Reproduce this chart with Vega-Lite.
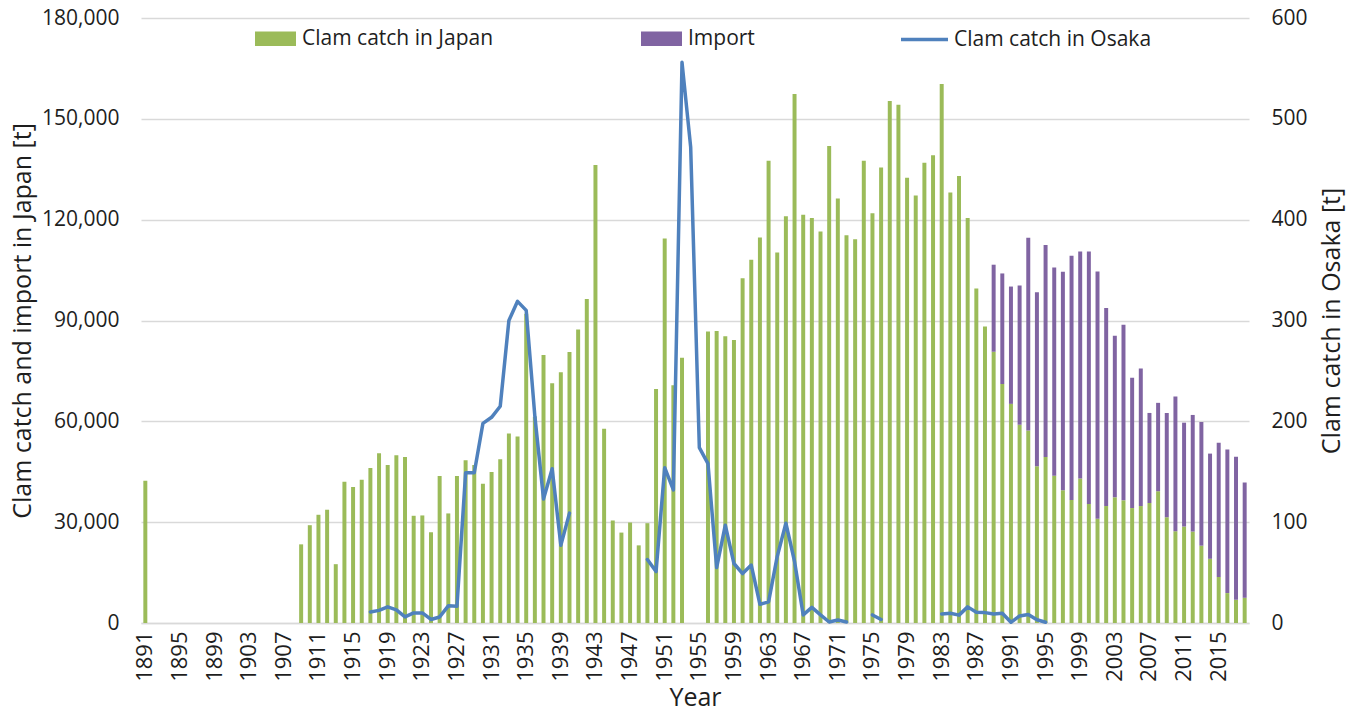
{
  "$schema": "https://vega.github.io/schema/vega-lite/v6.json",
  "width": 1108,
  "height": 605,
  "autosize": "none",
  "padding": {"left": 141, "top": 18, "right": 107, "bottom": 90},
  "background": "white",
  "config": {
    "view": {"stroke": null},
    "font": "Open Sans",
    "axis": {"labelFont": "Open Sans", "titleFont": "Open Sans", "labelColor": "#1e1e1e", "titleColor": "#1e1e1e", "titleFontWeight": "normal", "ticks": false},
    "legend": {"labelFont": "Open Sans", "labelColor": "#1e1e1e", "labelLimit": 400}
  },
  "data": {
    "values": [
      {"year": 1891, "japan": 42300},
      {"year": 1892}, {"year": 1893}, {"year": 1894}, {"year": 1895}, {"year": 1896}, {"year": 1897}, {"year": 1898}, {"year": 1899}, {"year": 1900},
      {"year": 1901}, {"year": 1902}, {"year": 1903}, {"year": 1904}, {"year": 1905}, {"year": 1906}, {"year": 1907}, {"year": 1908},
      {"year": 1909, "japan": 23400},
      {"year": 1910, "japan": 29100},
      {"year": 1911, "japan": 32200},
      {"year": 1912, "japan": 33700},
      {"year": 1913, "japan": 17500},
      {"year": 1914, "japan": 42000},
      {"year": 1915, "japan": 40500},
      {"year": 1916, "japan": 42600},
      {"year": 1917, "japan": 46100, "osaka": 11},
      {"year": 1918, "japan": 50500, "osaka": 12.5},
      {"year": 1919, "japan": 47000, "osaka": 16},
      {"year": 1920, "japan": 49900, "osaka": 13},
      {"year": 1921, "japan": 49400, "osaka": 6},
      {"year": 1922, "japan": 31900, "osaka": 10},
      {"year": 1923, "japan": 32000, "osaka": 10},
      {"year": 1924, "japan": 27000, "osaka": 3.5},
      {"year": 1925, "japan": 43700, "osaka": 6},
      {"year": 1926, "japan": 32600, "osaka": 17},
      {"year": 1927, "japan": 43700, "osaka": 16.5},
      {"year": 1928, "japan": 48400, "osaka": 149},
      {"year": 1929, "japan": 47000, "osaka": 149},
      {"year": 1930, "japan": 41400, "osaka": 198},
      {"year": 1931, "japan": 44900, "osaka": 204},
      {"year": 1932, "japan": 48700, "osaka": 215},
      {"year": 1933, "japan": 56400, "osaka": 300},
      {"year": 1934, "japan": 55500, "osaka": 319},
      {"year": 1935, "japan": 92000, "osaka": 310},
      {"year": 1936, "japan": 61400, "osaka": 205},
      {"year": 1937, "japan": 79700, "osaka": 123},
      {"year": 1938, "japan": 71300, "osaka": 153},
      {"year": 1939, "japan": 74600, "osaka": 77},
      {"year": 1940, "japan": 80600, "osaka": 109},
      {"year": 1941, "japan": 87300},
      {"year": 1942, "japan": 96400},
      {"year": 1943, "japan": 136300},
      {"year": 1944, "japan": 57800},
      {"year": 1945, "japan": 30500},
      {"year": 1946, "japan": 26900},
      {"year": 1947, "japan": 29900},
      {"year": 1948, "japan": 23100},
      {"year": 1949, "japan": 29700, "osaka": 63},
      {"year": 1950, "japan": 69600, "osaka": 51},
      {"year": 1951, "japan": 114400, "osaka": 154},
      {"year": 1952, "japan": 70700, "osaka": 132},
      {"year": 1953, "japan": 78900, "osaka": 556},
      {"year": 1954, "osaka": 472},
      {"year": 1955, "osaka": 174},
      {"year": 1956, "japan": 86700, "osaka": 158},
      {"year": 1957, "japan": 86900, "osaka": 55},
      {"year": 1958, "japan": 85300, "osaka": 97},
      {"year": 1959, "japan": 84200, "osaka": 59},
      {"year": 1960, "japan": 102600, "osaka": 49},
      {"year": 1961, "japan": 108100, "osaka": 57.5},
      {"year": 1962, "japan": 114700, "osaka": 18.5},
      {"year": 1963, "japan": 137500, "osaka": 21},
      {"year": 1964, "japan": 110200, "osaka": 66},
      {"year": 1965, "japan": 121000, "osaka": 99},
      {"year": 1966, "japan": 157400, "osaka": 61},
      {"year": 1967, "japan": 121500, "osaka": 8},
      {"year": 1968, "japan": 120500, "osaka": 15.5},
      {"year": 1969, "japan": 116500, "osaka": 8},
      {"year": 1970, "japan": 141900, "osaka": 1},
      {"year": 1971, "japan": 126300, "osaka": 3},
      {"year": 1972, "japan": 115400, "osaka": 1},
      {"year": 1973, "japan": 114200},
      {"year": 1974, "japan": 137500},
      {"year": 1975, "japan": 121900, "osaka": 8},
      {"year": 1976, "japan": 135500, "osaka": 3.5},
      {"year": 1977, "japan": 155300},
      {"year": 1978, "japan": 154200},
      {"year": 1979, "japan": 132500},
      {"year": 1980, "japan": 127200},
      {"year": 1981, "japan": 136900},
      {"year": 1982, "japan": 139200},
      {"year": 1983, "japan": 160400, "osaka": 9},
      {"year": 1984, "japan": 128100, "osaka": 9.6},
      {"year": 1985, "japan": 133000, "osaka": 7.8},
      {"year": 1986, "japan": 120500, "osaka": 16},
      {"year": 1987, "japan": 99500, "osaka": 10.6},
      {"year": 1988, "japan": 88200, "osaka": 10.3},
      {"year": 1989, "japan": 80700, "import": 25900, "osaka": 9},
      {"year": 1990, "japan": 71100, "import": 32900, "osaka": 9.6},
      {"year": 1991, "japan": 65200, "import": 34900, "osaka": 0.7},
      {"year": 1992, "japan": 59000, "import": 41400, "osaka": 7},
      {"year": 1993, "japan": 57300, "import": 57300, "osaka": 8.5},
      {"year": 1994, "japan": 46600, "import": 51800, "osaka": 3.2},
      {"year": 1995, "japan": 49400, "import": 63100, "osaka": 0.7},
      {"year": 1996, "japan": 43800, "import": 62000},
      {"year": 1997, "japan": 39500, "import": 65000},
      {"year": 1998, "japan": 36600, "import": 72700},
      {"year": 1999, "japan": 43000, "import": 67500},
      {"year": 2000, "japan": 35400, "import": 75100},
      {"year": 2001, "japan": 31000, "import": 73600},
      {"year": 2002, "japan": 34800, "import": 58900},
      {"year": 2003, "japan": 37400, "import": 48100},
      {"year": 2004, "japan": 36500, "import": 52200},
      {"year": 2005, "japan": 34200, "import": 38800},
      {"year": 2006, "japan": 34800, "import": 40900},
      {"year": 2007, "japan": 35700, "import": 26800},
      {"year": 2008, "japan": 39200, "import": 26300},
      {"year": 2009, "japan": 31500, "import": 31000},
      {"year": 2010, "japan": 27300, "import": 40100},
      {"year": 2011, "japan": 28700, "import": 30900},
      {"year": 2012, "japan": 27200, "import": 34700},
      {"year": 2013, "japan": 23000, "import": 36800},
      {"year": 2014, "japan": 19100, "import": 31300},
      {"year": 2015, "japan": 13700, "import": 39900},
      {"year": 2016, "japan": 8900, "import": 42700},
      {"year": 2017, "japan": 6900, "import": 42600},
      {"year": 2018, "japan": 7500, "import": 34300}
    ]
  },
  "encoding": {
    "x": {
      "field": "year",
      "type": "ordinal",
      "scale": {
        "domain": [1891,1892,1893,1894,1895,1896,1897,1898,1899,1900,1901,1902,1903,1904,1905,1906,1907,1908,1909,1910,1911,1912,1913,1914,1915,1916,1917,1918,1919,1920,1921,1922,1923,1924,1925,1926,1927,1928,1929,1930,1931,1932,1933,1934,1935,1936,1937,1938,1939,1940,1941,1942,1943,1944,1945,1946,1947,1948,1949,1950,1951,1952,1953,1954,1955,1956,1957,1958,1959,1960,1961,1962,1963,1964,1965,1966,1967,1968,1969,1970,1971,1972,1973,1974,1975,1976,1977,1978,1979,1980,1981,1982,1983,1984,1985,1986,1987,1988,1989,1990,1991,1992,1993,1994,1995,1996,1997,1998,1999,2000,2001,2002,2003,2004,2005,2006,2007,2008,2009,2010,2011,2012,2013,2014,2015,2016,2017,2018],
        "paddingInner": 0.54,
        "paddingOuter": 0.27
      },
      "axis": {
        "title": "Year",
        "titleFontSize": 25,
        "titlePadding": 4,
        "labelFontSize": 22,
        "labelAngle": 270,
        "labelPadding": 8,
        "values": [1891,1895,1899,1903,1907,1911,1915,1919,1923,1927,1931,1935,1939,1943,1947,1951,1955,1959,1963,1967,1971,1975,1979,1983,1987,1991,1995,1999,2003,2007,2011,2015],
        "domainColor": "#d9d9d9",
        "domainWidth": 1.5,
        "grid": false
      }
    }
  },
  "layer": [
    {
      "transform": [{"fold": ["japan", "import"], "as": ["series", "value"]}],
      "mark": {"type": "bar"},
      "encoding": {
        "y": {
          "field": "value",
          "type": "quantitative",
          "stack": "zero",
          "scale": {"domain": [0, 180000], "nice": false},
          "axis": {
            "title": "Clam catch and import in Japan [t]",
            "titleFontSize": 25,
            "titlePadding": 6,
            "labelFontSize": 21,
            "labelPadding": 22,
            "values": [0, 30000, 60000, 90000, 120000, 150000, 180000],
            "format": ",.0f",
            "domain": false,
            "grid": true,
            "gridColor": "#d9d9d9",
            "gridWidth": 1.3
          }
        },
        "color": {
          "field": "series",
          "type": "nominal",
          "sort": ["japan", "import"],
          "scale": {"domain": ["japan", "import"], "range": ["#9bbb59", "#8064a2"]},
          "legend": {
            "title": null,
            "orient": "none",
            "direction": "horizontal",
            "legendX": 114,
            "legendY": 0,
            "symbolType": "M-1,-0.35H1V0.35H-1Z",
            "symbolSize": 1681,
            "symbolStrokeWidth": 0,
            "labelFontSize": 21,
            "labelOffset": 6,
            "columnPadding": 147,
            "labelExpr": "datum.label == 'japan' ? 'Clam catch in Japan' : 'Import'"
          }
        }
      }
    },
    {
      "mark": {"type": "line", "strokeWidth": 3.5, "strokeJoin": "round", "strokeCap": "round"},
      "encoding": {
        "y": {
          "field": "osaka",
          "type": "quantitative",
          "scale": {"domain": [0, 600], "nice": false},
          "axis": {
            "orient": "right",
            "title": "Clam catch in Osaka [t]",
            "titleFontSize": 25,
            "titleAngle": 270,
            "titleBaseline": "top",
            "titlePadding": 12,
            "labelFontSize": 21,
            "labelPadding": 22,
            "values": [0, 100, 200, 300, 400, 500, 600],
            "domain": false,
            "grid": false
          }
        },
        "stroke": {
          "datum": "Clam catch in Osaka",
          "type": "nominal",
          "scale": {"range": ["#4f81bd"]},
          "legend": {
            "title": null,
            "orient": "none",
            "legendX": 758,
            "legendY": -4,
            "symbolType": "stroke",
            "symbolSize": 2209,
            "symbolStrokeWidth": 3.5,
            "labelFontSize": 21,
            "labelOffset": 4
          }
        }
      }
    }
  ],
  "resolve": {"scale": {"y": "independent"}}
}
